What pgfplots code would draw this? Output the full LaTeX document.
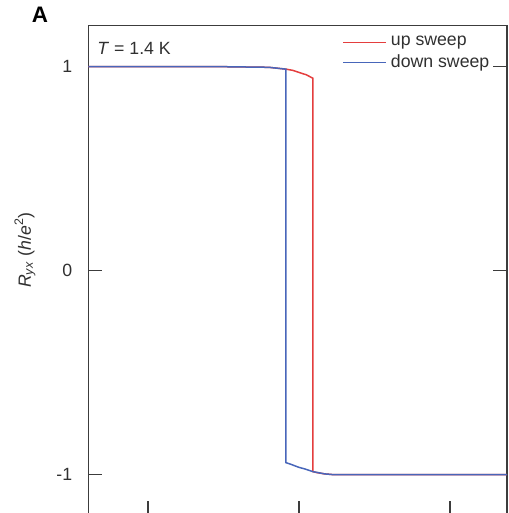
\documentclass[border=0pt]{standalone}
\usepackage{pgfplots}
\pgfplotsset{compat=1.18}
\usepackage{fontspec}
\setmainfont{Liberation Sans}
\definecolor{upred}{RGB}{228,62,62}
\definecolor{downblue}{RGB}{72,102,186}
\definecolor{axgray}{RGB}{60,60,60}
\begin{document}
\begin{tikzpicture}
\useasboundingbox (0pt,0pt) rectangle (254pt,256.5pt);
\clip (0pt,0pt) rectangle (254pt,256.5pt);
\begin{axis}[
  scale only axis,
  width=209.35pt, height=244.8pt,
  at={(44.15pt,-1.25pt)}, anchor=south west,
  xmin=-1.395, xmax=1.378,
  ymin=-1.2, ymax=1.2,
  xtick={-1,0,1}, xticklabels={},
  ytick={-1,0,1}, yticklabels={-1,0,1},
  xtick pos=bottom, ytick pos=both,
  tick align=inside,
  major tick length=7pt,
  axis line style={axgray, line width=0.6pt},
  every tick/.style={axgray, line width=0.6pt},
  tick label style={font=\fontsize{8.85}{10}\selectfont, text=axgray!80!black},
  yticklabel style={xshift=-4.5pt},
  ylabel={\textit{R}\textsubscript{\textit{yx}} (\textit{h}/\textit{e}\textsuperscript{2})},
  ylabel style={at={(rel axis cs:-0.1512,0.5423)}, anchor=center, font=\fontsize{8.85}{10}\selectfont, text=axgray!80!black},
  clip=false,
  legend cell align=left,
  legend style={draw=none, fill=none, at={(rel axis cs:0.606,0.988)}, anchor=north west,
    inner sep=0pt, font=\fontsize{8.85}{10}\selectfont, text=axgray!80!black,
    /tikz/every even column/.append style={column sep=3pt},
    row sep=-1pt},
  legend image code/.code={\draw[#1] (0pt,0pt) -- (21.5pt,0pt);},
]
\addplot[upred, line width=0.75pt] coordinates {
(-1.395,1.0) (-0.5,1.0) (-0.2,0.997) (-0.086,0.988) (-0.04,0.982) (0.0,0.972) (0.05,0.96) (0.093,0.943)
(0.093,-0.985) (0.12,-0.99) (0.17,-0.996) (0.232,-1.0) (1.378,-1.0)};
\addlegendentry{up sweep}
\addplot[downblue, line width=0.75pt] coordinates {
(1.378,-1.0) (0.232,-1.0) (0.17,-0.996) (0.093,-0.985) (0.04,-0.972) (0.0,-0.964) (-0.05,-0.95) (-0.086,-0.941)
(-0.086,0.988) (-0.2,0.997) (-0.5,1.0) (-1.395,1.0)};
\addlegendentry{down sweep}
\node[anchor=west, inner sep=0pt, font=\fontsize{8.85}{10}\selectfont, text=axgray!80!black] at (rel axis cs:0.0208,0.9549) {\textit{T} = 1.4 K};
\node[inner sep=0pt, font=\fontsize{11.2}{13}\bfseries] at (rel axis cs:-0.1154,1.0229) {A};
\end{axis}
\end{tikzpicture}
\end{document}
